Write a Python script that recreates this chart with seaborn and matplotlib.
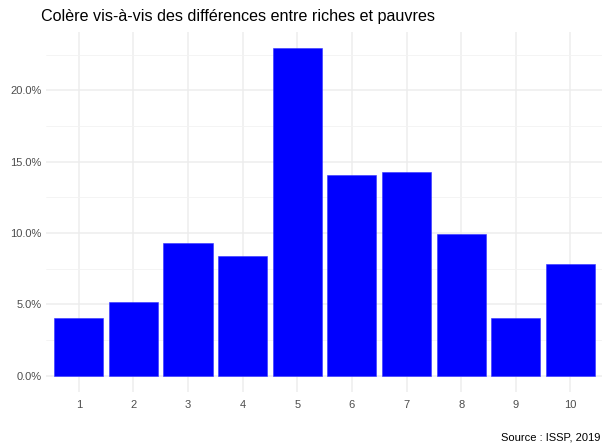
import matplotlib
matplotlib.use("Agg")
import matplotlib.pyplot as plt
import matplotlib.ticker as mticker
import seaborn as sns
import pandas as pd

# answers on the 1-10 anger scale, share of respondents (%)
categories = ["1", "2", "3", "4", "5", "6", "7", "8", "9", "10"]
shares = [4.05, 5.15, 9.3, 8.4, 22.95, 14.1, 14.3, 9.9, 4.05, 7.85]

df = pd.DataFrame({"note": categories, "part": shares})

sns.set_style("white")
plt.rcParams["font.family"] = ["Liberation Sans", "DejaVu Sans"]

fig = plt.figure(figsize=(6.02, 4.46), dpi=100)
ax = fig.add_axes([46 / 602, 1 - 392 / 446, 1 - 46 / 602 + 0.002, (392 - 32) / 446])

sns.barplot(data=df, x="note", y="part", color="#0000FF", saturation=1,
            width=0.9, edgecolor="#3333FF", linewidth=0.4, ax=ax, zorder=3)

ax.set_xlim(-0.6, 9.6)
ax.set_ylim(-1.15, 24.1)
ax.yaxis.set_major_locator(mticker.MultipleLocator(5))
ax.yaxis.set_minor_locator(mticker.MultipleLocator(2.5))
ax.yaxis.set_major_formatter(mticker.FuncFormatter(lambda v, p: f"{v:.1f}%"))

ax.grid(which="major", axis="both", color="#EDEDED", linewidth=1.1, zorder=0)
ax.grid(which="minor", axis="y", color="#F3F3F3", linewidth=0.6, zorder=0)
ax.set_axisbelow(True)
for s in ax.spines.values():
    s.set_visible(False)

ax.tick_params(axis="both", which="both", length=0, labelsize=8, labelcolor="#4D4D4D")
ax.tick_params(axis="y", pad=3)
ax.tick_params(axis="x", pad=6)
ax.set_xlabel("")
ax.set_ylabel("")

fig.text(41 / 602, 1 - 17 / 446, "Colère vis-à-vis des différences entre riches et pauvres",
         fontsize=11.6, color="black", ha="left", va="center")
fig.text(600 / 602, 1 - 437 / 446, "Source : ISSP, 2019", fontsize=8,
         color="black", ha="right", va="center")

fig.savefig("out.png", dpi=100)
